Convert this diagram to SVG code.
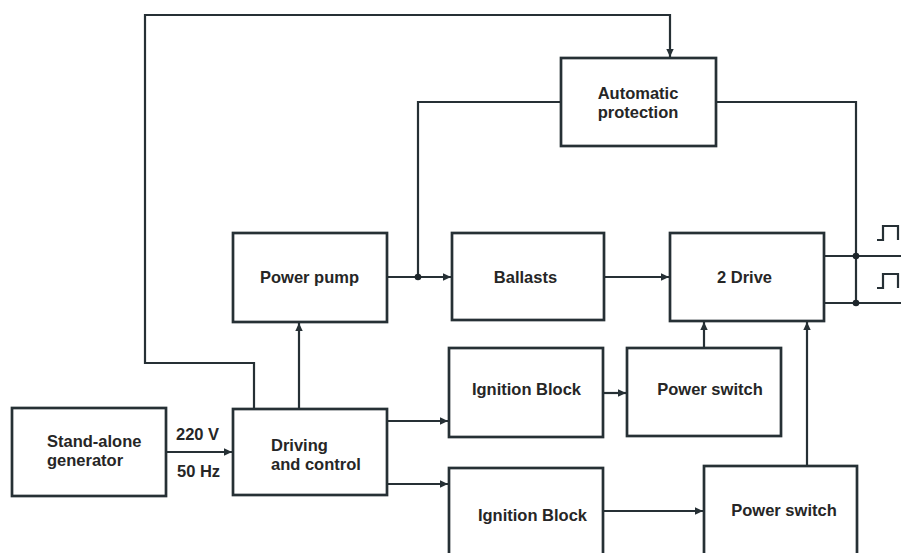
<svg xmlns="http://www.w3.org/2000/svg" width="901" height="553" viewBox="0 0 901 553">
<defs>
<marker id="arr" markerWidth="9" markerHeight="9" refX="8" refY="4.5" orient="auto" markerUnits="userSpaceOnUse">
<path d="M0,0.8 L8,4.5 L0,8.2 Z" fill="#263035"/>
</marker>
<style>
.box{fill:#fff;stroke:#263035;stroke-width:2.7}
.ln{fill:none;stroke:#263035;stroke-width:2.2}
.dot{fill:#1e262b}
text{font-family:"Liberation Sans",Arial,sans-serif;font-size:16.5px;font-weight:bold;fill:#262626}
.c{text-anchor:middle}
</style>
</defs>
<rect width="901" height="553" fill="#fff"/>
<g id="connectors">
<path class="ln" d="M254,409 V363 H145 V15 H670 V57" marker-end="url(#arr)"/>
<path class="ln" d="M299,409 V323" marker-end="url(#arr)"/>
<path class="ln" d="M387,277 H451" marker-end="url(#arr)"/>
<path class="ln" d="M418,277 V102 H561"/>
<path class="ln" d="M716,102 H856 V303"/>
<path class="ln" d="M604,277 H669" marker-end="url(#arr)"/>
<path class="ln" d="M824,256 H901"/>
<path class="ln" d="M824,303 H901"/>
<path class="ln" d="M877,240 H883 V226 H898 V240"/>
<path class="ln" d="M877,288 H883 V274 H898 V288"/>
<path class="ln" d="M166,452 H232" marker-end="url(#arr)"/>
<path class="ln" d="M387,421 H448" marker-end="url(#arr)"/>
<path class="ln" d="M387,484 H448" marker-end="url(#arr)"/>
<path class="ln" d="M603,393 H626" marker-end="url(#arr)"/>
<path class="ln" d="M603,511 H703" marker-end="url(#arr)"/>
<path class="ln" d="M704,348 V322" marker-end="url(#arr)"/>
<path class="ln" d="M807,466 V322" marker-end="url(#arr)"/>
<circle class="dot" cx="418" cy="277" r="3.3"/>
<circle class="dot" cx="856" cy="256" r="3.3"/>
<circle class="dot" cx="856" cy="303" r="3.3"/>
</g>
<g id="automatic-protection">
<rect class="box" x="561" y="58" width="155" height="88"/>
<text class="c" x="638" y="99">Automatic</text>
<text class="c" x="638" y="118">protection</text>
</g>
<g id="power-pump">
<rect class="box" x="233" y="233" width="154" height="89"/>
<text class="c" x="309.5" y="283">Power pump</text>
</g>
<g id="ballasts">
<rect class="box" x="452" y="233" width="152" height="87"/>
<text class="c" x="525.5" y="283">Ballasts</text>
</g>
<g id="drive">
<rect class="box" x="670" y="233" width="154" height="88"/>
<text class="c" x="744.5" y="283">2 Drive</text>
</g>
<g id="ignition-block-1">
<rect class="box" x="449" y="348" width="154" height="89"/>
<text class="c" x="526.5" y="395">Ignition Block</text>
</g>
<g id="power-switch-1">
<rect class="box" x="627" y="348" width="154" height="88"/>
<text class="c" x="710" y="395">Power switch</text>
</g>
<g id="stand-alone-generator">
<rect class="box" x="12" y="408" width="154" height="88"/>
<text x="47" y="447">Stand-alone</text>
<text x="47" y="466">generator</text>
</g>
<g id="supply-labels">
<text x="176" y="440">220 V</text>
<text x="177" y="477">50 Hz</text>
</g>
<g id="driving-and-control">
<rect class="box" x="233" y="409" width="154" height="86"/>
<text x="271" y="451">Driving</text>
<text x="271" y="470">and control</text>
</g>
<g id="ignition-block-2">
<rect class="box" x="449" y="468" width="154" height="92"/>
<text class="c" x="532.5" y="521">Ignition Block</text>
</g>
<g id="power-switch-2">
<rect class="box" x="704" y="466" width="153" height="94"/>
<text class="c" x="784" y="516">Power switch</text>
</g>
</svg>
